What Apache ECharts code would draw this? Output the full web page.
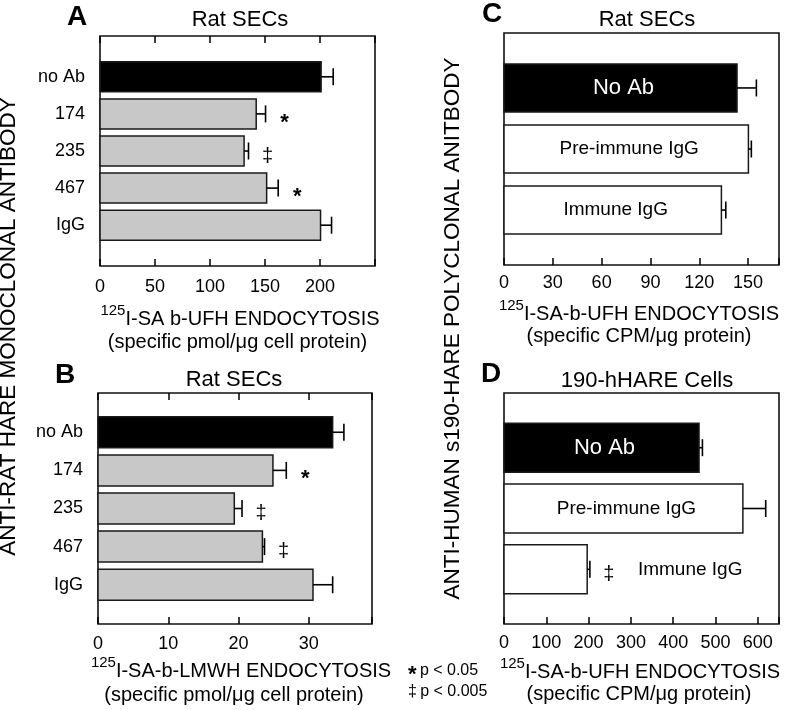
<!DOCTYPE html>
<html><head><meta charset="utf-8">
<script src="https://cdn.jsdelivr.net/npm/echarts@6/dist/echarts.min.js"></script>
<style>html,body{margin:0;padding:0;background:#fff}#c{width:792px;height:710px}</style>
</head><body><div id="c"></div>
<script>
// ---- data ----
const catsAB = ['no Ab', '174', '235', '467', 'IgG'];
const valsA = [201, 142, 131, 151.5, 200.5];
const errA = [11, 8.5, 4, 10.5, 10];
const sigA = ['', '*', '‡', '*', ''];
const ticksA = [0, 50, 100, 150, 200];

const valsB = [33.4, 24.9, 19.4, 23.4, 30.6];
const errB = [1.6, 1.9, 1.1, 0.3, 2.8];
const sigB = ['', '*', '‡', '‡', ''];
const ticksB = [0, 10, 20, 30];

const catsCD = ['No Ab', 'Pre-immune IgG', 'Immune IgG'];
const valsC = [143.2, 150.2, 133.6];
const errC = [11.9, 1.8, 2.7];
const sigC = ['', '', ''];
const ticksC = [0, 30, 60, 90, 120, 150];

const valsD = [461, 564.6, 196.6];
const errD = [8, 54, 6.4];
const sigD = ['', '', '‡'];
const ticksD = [0, 100, 200, 300, 400, 500, 600];

// ---- layout ----
const FF = '"Liberation Sans", Arial, Helvetica, sans-serif';
const panels = [
  {grid:{left:100, top:36, width:275, height:230}, xMax:250, interval:50, yMin:-1.1, yMax:5.1, barH:30, topTicks:true, margin:12,
   cats:catsAB, vals:valsA, err:errA, sig:sigA, ticks:ticksA, fill:'#c8c8c8', labelMode:'left'},
  {grid:{left:98, top:393, width:274, height:231}, xMax:39, interval:10, yMin:-1.03, yMax:5.03, barH:31, topTicks:true, margin:11,
   cats:catsAB, vals:valsB, err:errB, sig:sigB, ticks:ticksB, fill:'#c8c8c8', labelMode:'left'},
  {grid:{left:504, top:33, width:275, height:232}, xMax:169, interval:30, yMin:-0.9, yMax:2.9, barH:48, topTicks:false, margin:9,
   cats:catsCD, vals:valsC, err:errC, sig:sigC, ticks:ticksC, fill:'#ffffff', labelMode:'inside', outside:[false,false,false]},
  {grid:{left:504, top:393, width:275, height:231}, xMax:650, interval:100, yMin:-0.9, yMax:2.9, barH:49, topTicks:false, margin:10,
   cats:catsCD, vals:valsD, err:errD, sig:sigD, ticks:ticksD, fill:'#ffffff', labelMode:'inside', outside:[false,false,true]}
];

function makeRender(cfg) {
  return function (params, api) {
    const i = params.dataIndex;
    const v = api.value(0), idx = api.value(1), e = api.value(2);
    const p0 = api.coord([0, idx]), p1 = api.coord([v, idx]), p2 = api.coord([v + e, idx]);
    const h = cfg.barH, y = p0[1];
    const ch = [
      {type:'rect', shape:{x:p0[0], y:y - h/2, width:p1[0] - p0[0], height:h},
       style:{fill: i === 0 ? '#000' : cfg.fill, stroke:'#1a1a1a', lineWidth:1.5}},
      {type:'line', shape:{x1:p1[0], y1:y, x2:p2[0], y2:y}, style:{stroke:'#000', lineWidth:1.6}},
      {type:'line', shape:{x1:p2[0], y1:y - 8.5, x2:p2[0], y2:y + 8.5}, style:{stroke:'#000', lineWidth:1.6}}
    ];
    const s = cfg.sig[i];
    if (s) {
      ch.push({type:'text', x:p2[0] + 19, y:y + (s === '*' ? 9 : 5),
        style:{text:s, fill:'#000', align:'center', verticalAlign:'middle',
               font:(s === '*' ? 'bold 22px ' : '20px ') + FF}});
    }
    const name = cfg.cats[i];
    if (cfg.labelMode === 'left') {
      ch.push({type:'text', x:p0[0] - 15, y:y,
        style:{text:name, fill:'#000', align:'right', verticalAlign:'middle', font:'18px ' + FF}});
    } else if (cfg.outside[i]) {
      ch.push({type:'text', x:p2[0] + 48, y:y,
        style:{text:name, fill:'#000', align:'left', verticalAlign:'middle', font:'19px ' + FF}});
    } else {
      ch.push({type:'text', x:(p0[0] + p1[0]) / 2 + 3, y:y,
        style:{text:name, fill: i === 0 ? '#fff' : '#000', align:'center', verticalAlign:'middle',
               font:(i === 0 ? '22px ' : '19px ') + FF}});
    }
    return {type:'group', children:ch};
  };
}

const grids = [], xAxes = [], yAxes = [], series = [];
panels.forEach((p, k) => {
  grids.push(Object.assign({show:true, borderColor:'#111', borderWidth:1.6, backgroundColor:'transparent', containLabel:false}, p.grid));
  const tickSet = p.ticks;
  xAxes.push({gridIndex:k, type:'value', min:0, max:p.xMax, interval:p.interval, position:'bottom',
    axisLine:{show:false, onZero:false}, splitLine:{show:false},
    axisTick:{show:true, inside:true, length:7, lineStyle:{color:'#000', width:1.5}},
    axisLabel:{show:true, margin:p.margin, fontSize:18, fontFamily:FF, color:'#000',
      formatter: v => tickSet.indexOf(v) >= 0 ? String(v) : ''}});
  if (p.topTicks) {
    xAxes.push({gridIndex:k, type:'value', min:0, max:p.xMax, interval:p.interval, position:'top',
      axisLine:{show:false, onZero:false}, splitLine:{show:false}, axisLabel:{show:false},
      axisTick:{show:true, inside:true, length:7, lineStyle:{color:'#000', width:1.5}}});
  }
  yAxes.push({gridIndex:k, type:'value', inverse:true, min:p.yMin, max:p.yMax,
    axisLine:{show:false, onZero:false}, axisTick:{show:false}, axisLabel:{show:false}, splitLine:{show:false}});
});
let xi = 0;
panels.forEach((p, k) => {
  series.push({type:'custom', xAxisIndex:xi, yAxisIndex:k, clip:false, z:5,
    renderItem: makeRender(p),
    encode:{x:0, y:1},
    data: p.vals.map((v, i) => [v, i, p.err[i]])});
  xi += p.topTicks ? 2 : 1;
});

function txt(x, y, text, font, extra) {
  return Object.assign({type:'text', x:x, y:y, z:10,
    style:{text:text, font:font, fill:'#000', align:'center', verticalAlign:'middle'}}, extra || {});
}
function axisName(x, y, main) {
  return {type:'text', x:x, y:y, z:10,
    style:{text:'{s|125}{m|' + main + '}', align:'center', verticalAlign:'middle', fill:'#000',
      rich:{s:{fontSize:15, fontFamily:FF, fill:'#000', verticalAlign:'top', lineHeight:9},
            m:{fontSize:20, fontFamily:FF, fill:'#000', verticalAlign:'bottom', lineHeight:26}}}};
}
const graphics = [
  txt(77, 17, 'A', 'bold 28px ' + FF),
  txt(65, 375, 'B', 'bold 28px ' + FF),
  txt(492, 14, 'C', 'bold 28px ' + FF),
  txt(491, 374, 'D', 'bold 28px ' + FF),
  txt(240, 20, 'Rat SECs', '22px ' + FF),
  txt(234, 380, 'Rat SECs', '22px ' + FF),
  txt(647, 20, 'Rat SECs', '22px ' + FF),
  txt(647, 381, '190-hHARE Cells', '22px ' + FF),
  axisName(240, 316, 'I-SA b-UFH ENDOCYTOSIS'),
  txt(237.5, 342, '(specific pmol/\u03bcg cell protein)', '20px ' + FF),
  axisName(241, 668, 'I-SA-b-LMWH ENDOCYTOSIS'),
  txt(234, 695, '(specific pmol/\u03bcg cell protein)', '20px ' + FF),
  axisName(639, 311, 'I-SA-b-UFH ENDOCYTOSIS'),
  txt(639, 336.5, '(specific CPM/\u03bcg protein)', '20px ' + FF),
  axisName(640, 669, 'I-SA-b-UFH ENDOCYTOSIS'),
  txt(639, 694.5, '(specific CPM/\u03bcg protein)', '20px ' + FF),
  txt(9, 326.5, 'ANTI-RAT HARE MONOCLONAL ANTIBODY', '22.5px ' + FF, {rotation: Math.PI / 2}),
  txt(453, 328.5, 'ANTI-HUMAN s190-HARE POLYCLONAL ANITBODY', '22.5px ' + FF, {rotation: Math.PI / 2}),
  {type:'text', x:408, y:671, z:10, style:{text:'{a|*} {b|p < 0.05}', align:'left', verticalAlign:'middle',
    rich:{a:{fontSize:22, fontWeight:'bold', fontFamily:FF, fill:'#000', padding:[8,0,0,0]}, b:{fontSize:16, fontFamily:FF, fill:'#000'}}}},
  {type:'text', x:408, y:692, z:10, style:{text:'{a|‡} {b|p < 0.005}', align:'left', verticalAlign:'middle',
    rich:{a:{fontSize:16, fontFamily:FF, fill:'#000'}, b:{fontSize:16, fontFamily:FF, fill:'#000'}}}}
];

const chart = echarts.init(document.getElementById('c'), null, {renderer:'canvas'});
chart.setOption({
  animation:false,
  backgroundColor:'#fff',
  grid:grids, xAxis:xAxes, yAxis:yAxes, series:series, graphic:graphics
});
</script></body></html>
